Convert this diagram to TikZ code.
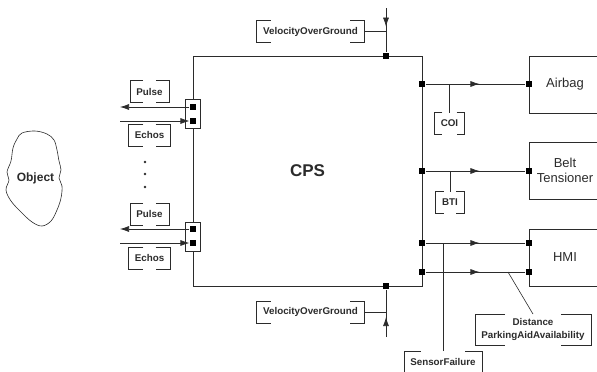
\documentclass[tikz,border=0pt]{standalone}
\usepackage{fontspec}
\setmainfont{Liberation Sans}
\usetikzlibrary{positioning,arrows.meta,decorations.markings}
\definecolor{WireGray}{HTML}{2B2B2B}

\begin{document}
\begin{tikzpicture}[x=1pt, y=-1pt, line width=0.7pt, color=WireGray,
    port/.style={rectangle, fill=black, inner sep=0pt, minimum size=6.5pt},
    pbox/.style={rectangle, draw, fill=white, inner sep=0pt, minimum width=15pt, minimum height=29pt},
    blk/.style={rectangle, draw, align=center, minimum width=72pt, minimum height=57pt,
      font=\fontsize{13}{15}\selectfont},
    lbl/.style={rectangle, align=center, inner xsep=6pt, inner ysep=4pt, minimum height=21pt,
      font=\fontsize{9.8}{13}\selectfont\bfseries,
      append after command={\pgfextra{\draw[line width=0.6pt]
        (\tikzlastnode.north west) ++(#1,0) -| (\tikzlastnode.south west) -- ++(#1,0)
        (\tikzlastnode.north east) ++(-#1,0) -| (\tikzlastnode.south east) -- ++(-#1,0);}}},
    lbl/.default=12,
    sig/.style={decoration={markings, mark=at position #1 with {\arrow{Latex[length=9pt,width=6pt]}}},
      postaction={decorate}},
    tip/.style={-{Latex[length=9pt,width=6pt]}}]
  \useasboundingbox (0,0) rectangle (597,372);

  % controller
  \node[rectangle, draw, line width=0.8pt, minimum width=229pt, minimum height=230pt,
    font=\fontsize{17}{20}\selectfont\bfseries] (cps) at (307.5,171) {CPS};

  % object in front of the car
  \draw[line width=0.6pt] plot[smooth cycle, tension=0.6] coordinates {
    (22,133) (35,131) (47,134) (54,140) (57,150) (59,161) (61,170) (59,178)
    (62,186) (61,198) (57,210) (51,221) (42,226) (32,222) (21,212) (11,201)
    (6,190) (9,180) (7,172) (11,161) (13,148) (17,139)};
  \node[font=\fontsize{12}{14}\selectfont\bfseries] (obj) at (35.5,178) {Object};

  % ultrasonic sensors
  \node[pbox] (lp1) at (192.5,113.5) {};
  \node[pbox] (lp2) at (192.5,236.5) {};
  \node[port] (pu1) at (193,107) {};
  \node[port] (ec1) at (193,121) {};
  \node[port] (pu2) at (193,229) {};
  \node[port] (ec2) at (193,243) {};
  \coordinate (pu1o) at (120,107);
  \coordinate (ec1o) at (120,121);
  \coordinate (pu2o) at (120,229);
  \coordinate (ec2o) at (120,243);
  \draw[tip] (pu1) -- (pu1o);
  \draw[tip] (ec1o) -- (ec1);
  \draw[tip] (pu2) -- (pu2o);
  \draw[tip] (ec2o) -- (ec2);
  \node[lbl=13] (pulse1) at (149.5,91.5) {Pulse};
  \node[lbl=15] (echo1) at (149.5,135) {Echos};
  \node[lbl=13] (pulse2) at (149.5,214) {Pulse};
  \node[lbl=15] (echo2) at (149.5,258) {Echos};
  \foreach \y in {162,174,187}
    \fill (145,\y) circle (1.4);

  % speed input
  \node[port] (vp1) at (386,56) {};
  \node[port] (vp2) at (386,286) {};
  \coordinate (vin1) at (386,8);
  \coordinate (vin2) at (386,337);
  \draw[sig=0.42] (vin1) -- (vp1);
  \draw[sig=0.42] (vin2) -- (vp2);
  \node[lbl=14] (vog1) at (310.5,31.5) {VelocityOverGround};
  \node[lbl=14] (vog2) at (310.5,312) {VelocityOverGround};
  \draw (vog1.east) -- (vog1.east -| vp1);
  \draw (vog2.east) -- (vog2.east -| vp2);

  % actuators
  \node[blk] (airbag) at (565,84.5) {Airbag};
  \node[blk] (belt) at (565,170.5) {Belt\\Tensioner};
  \node[blk] (hmi) at (565,257.5) {HMI};
  \node[port] (op1) at (422,84) {};
  \node[port] (op2) at (422,171) {};
  \node[port] (op3) at (422,243) {};
  \node[port] (op4) at (422,272) {};
  \node[port] (ai) at (529,84) {};
  \node[port] (bi) at (529,171) {};
  \node[port] (hi1) at (529,243) {};
  \node[port] (hi2) at (529,272) {};
  \draw[sig=0.54] (op1) -- (ai);
  \draw[sig=0.54] (op2) -- (bi);
  \draw[sig=0.54] (op3) -- (hi1);
  \draw[sig=0.54] (op4) -- (hi2);

  % signal names
  \node[lbl=8] (coi) at (449.5,123.5) {COI};
  \node[lbl=8] (bti) at (450,202.5) {BTI};
  \node[lbl=17] (sf) at (443,362) {SensorFailure};
  \node[lbl=30] (dist) at (533,329.5) {Distance\\ParkingAidAvailability};
  \coordinate (dtap) at (508,272);
  \draw (coi.north) -- (coi.north |- op1);
  \draw (bti.north) -- (bti.north |- op2);
  \draw (sf.north) -- (sf.north |- op3);
  \draw[line width=0.6pt] (dist.north) -- (dtap);
\end{tikzpicture}
\end{document}
